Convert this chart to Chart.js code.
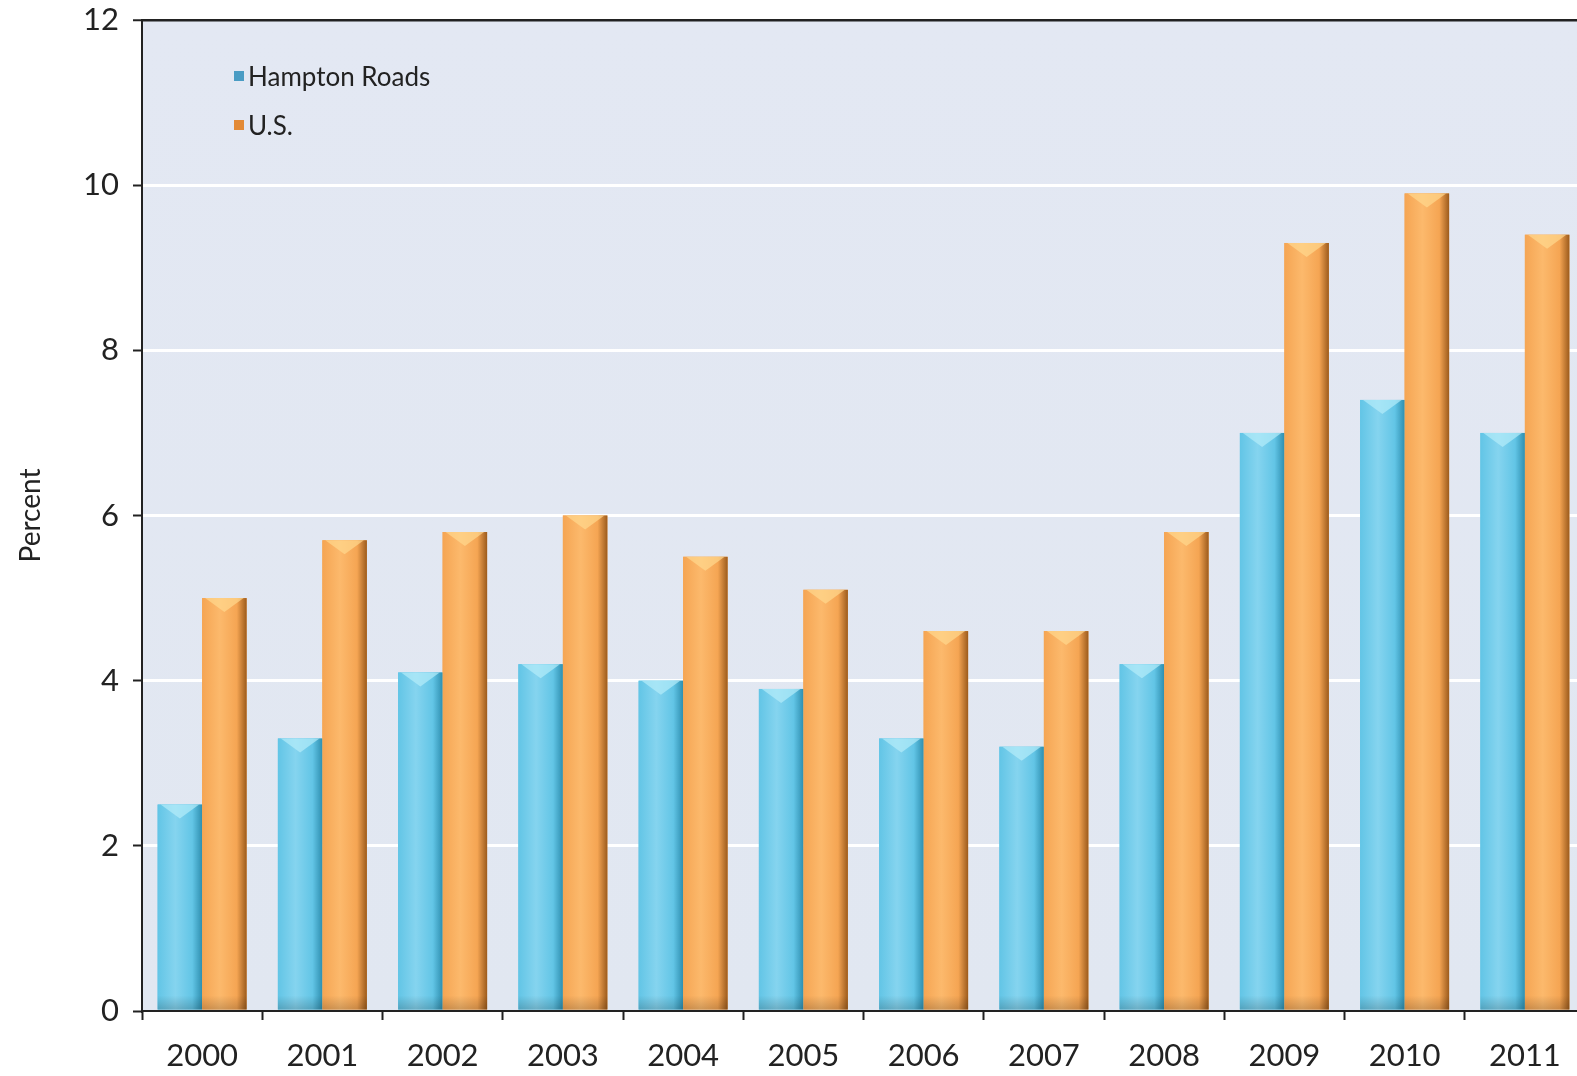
<!DOCTYPE html>
<html>
<head>
<meta charset="utf-8">
<script src="https://cdn.jsdelivr.net/npm/chart.js@4/dist/chart.umd.min.js"></script>
<style>
  html, body { margin: 0; padding: 0; background: #ffffff; overflow: hidden; }
  #wrap { width: 1585px; height: 1076px; }
</style>
</head>
<body>
<div id="wrap"><canvas id="unempChart" width="1585" height="1076"></canvas></div>
<script>
const years = ['2000', '2001', '2002', '2003', '2004', '2005', '2006', '2007', '2008', '2009', '2010', '2011'];
const hamptonRoads = [2.5, 3.3, 4.1, 4.2, 4.0, 3.9, 3.3, 3.2, 4.2, 7.0, 7.4, 7.0];
const unitedStates = [5.0, 5.7, 5.8, 6.0, 5.5, 5.1, 4.6, 4.6, 5.8, 9.3, 9.9, 9.4];
const yTicks = [0, 2, 4, 6, 8, 10, 12];

const fontFamily = 'Lato, "Open Sans", sans-serif';

// light blue-grey plot background
const plotBackground = {
  id: 'plotBackground',
  beforeDraw(chart) {
    const { ctx, chartArea: a } = chart;
    const g = ctx.createLinearGradient(0, a.top, 0, a.bottom);
    g.addColorStop(0, '#e3e8f3');
    g.addColorStop(1, '#e1e7f1');
    ctx.save();
    ctx.fillStyle = g;
    ctx.fillRect(a.left, a.top, a.right - a.left, a.bottom - a.top);
    ctx.restore();
  }
};

// cylinder-like shading on top of every bar
const barShading = {
  id: 'barShading',
  afterDatasetsDraw(chart) {
    const ctx = chart.ctx;
    const shades = [
      { light: '#85d4ef', mid: '#62c5e6', dark: '#2f8fb0', cap: '#b5ecfa' },
      { light: '#fcb96c', mid: '#f5a553', dark: '#9c5b1c', cap: '#ffd98f' }
    ];
    chart.data.datasets.forEach((ds, di) => {
      const meta = chart.getDatasetMeta(di);
      const s = shades[di];
      meta.data.forEach(bar => {
        const left = bar.x - bar.width / 2;
        const right = bar.x + bar.width / 2;
        const top = bar.y;
        const bottom = bar.base;
        const g = ctx.createLinearGradient(left, 0, right, 0);
        g.addColorStop(0, s.mid);
        g.addColorStop(0.4, s.light);
        g.addColorStop(0.78, s.mid);
        g.addColorStop(1, s.dark);
        ctx.save();
        ctx.fillStyle = g;
        ctx.fillRect(left, top, right - left, bottom - top);
        // bevel chevron on top
        ctx.fillStyle = s.cap;
        ctx.globalAlpha = 0.7;
        ctx.beginPath();
        ctx.moveTo(left + 3, top);
        ctx.lineTo(right - 3, top);
        ctx.lineTo(bar.x, top + 14);
        ctx.closePath();
        ctx.fill();
        // slightly darker foot
        const f = ctx.createLinearGradient(0, bottom - 14, 0, bottom);
        f.addColorStop(0, 'rgba(0,0,0,0)');
        f.addColorStop(1, 'rgba(0,0,0,0.18)');
        ctx.globalAlpha = 1;
        ctx.fillStyle = f;
        ctx.fillRect(left, bottom - 14, right - left, 14);
        ctx.restore();
      });
    });
  }
};

// legend drawn inside the plot, upper left
const innerLegend = {
  id: 'innerLegend',
  afterDraw(chart) {
    const ctx = chart.ctx;
    const a = chart.chartArea;
    const colors = ['#4a9cc4', '#e38a36'];
    ctx.save();
    ctx.font = '26px ' + fontFamily;
    ctx.textBaseline = 'middle';
    chart.data.datasets.forEach((ds, i) => {
      const y = a.top + 58 + i * 49;
      const x = a.left + 92;
      ctx.fillStyle = colors[i];
      ctx.fillRect(x, y - 7, 10, 10);
      ctx.fillStyle = '#222';
      ctx.fillText(ds.label, x + 14, y);
    });
    ctx.restore();
  }
};

const ctx = document.getElementById('unempChart').getContext('2d');

const unempChart = new Chart(ctx,
  {
    type: 'bar',
    data:
    {
      labels: years,
      datasets:
        [{
          label: 'Hampton Roads',
          data: hamptonRoads,
          backgroundColor: '#62c5e6',
          borderWidth: 0,
          categoryPercentage: 0.74,
          barPercentage: 1.0
        },
        {
          label: 'U.S.',
          data: unitedStates,
          backgroundColor: '#f5a553',
          borderWidth: 0,
          categoryPercentage: 0.74,
          barPercentage: 1.0
        }]
    },
    options:
    {
      responsive: false,
      animation: false,
      devicePixelRatio: 1,
      layout: { padding: { top: 0, right: 0, bottom: 0, left: 0 } },
      scales:
      {
        x:
        {
          grid:
          {
            offset: true,
            drawOnChartArea: false,
            drawTicks: true,
            tickLength: 9,
            tickColor: '#222',
            tickWidth: 2
          },
          border: { color: '#222', width: 2 },
          ticks:
          {
            color: '#222',
            font: { family: fontFamily, size: 31 },
            padding: 17,
            maxRotation: 0,
            minRotation: 0,
            autoSkip: false
          },
          afterFit: scale => { scale.height = 65; }
        },
        y:
        {
          min: 0,
          max: 12,
          afterBuildTicks: scale => { scale.ticks = yTicks.map(v => ({ value: v })); },
          grid:
          {
            color: c => (c.tick.value === 12 ? '#222' : (c.tick.value === 0 ? 'rgba(0,0,0,0)' : '#ffffff')),
            lineWidth: c => (c.tick.value === 12 ? 2.5 : 3),
            tickColor: '#222',
            tickLength: 9,
            tickWidth: 2
          },
          border: { color: '#222', width: 2 },
          ticks:
          {
            color: '#222',
            font: { family: fontFamily, size: 31 },
            padding: 14
          },
          title:
          {
            display: true,
            text: 'Percent',
            color: '#222',
            font: { family: fontFamily, size: 28 },
            padding: { top: 14, bottom: 0 }
          },
          afterFit: scale => { scale.width = 142; scale.paddingTop = 20; scale.paddingBottom = 0; }
        }
      },
      plugins:
      {
        legend: { display: false },
        tooltip: { enabled: false }
      }
    },
    plugins: [plotBackground, barShading, innerLegend]
  });
</script>
</body>
</html>
